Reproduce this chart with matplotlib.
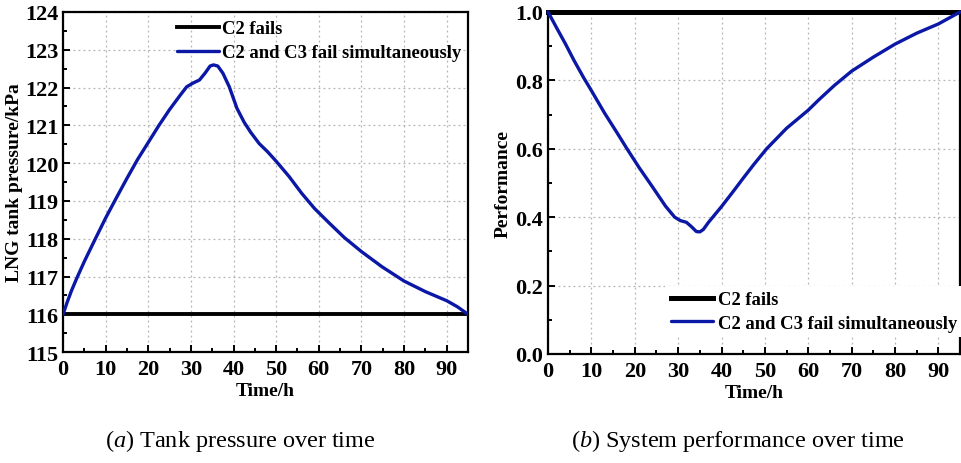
import matplotlib.pyplot as plt
from matplotlib.ticker import MultipleLocator, FormatStrFormatter

plt.rcParams['font.family'] = ['Liberation Serif', 'DejaVu Serif']
plt.rcParams['font.weight'] = 'bold'
plt.rcParams['mathtext.fontset'] = 'custom'
plt.rcParams['mathtext.rm'] = 'Liberation Serif:normal'
plt.rcParams['mathtext.it'] = 'Liberation Serif:italic:normal'

# tank pressure (kPa) vs time (h)
t_pres = [0, 1, 2, 3.2, 5, 7.5, 10, 12.5, 15, 17.5, 20, 22.5, 25, 27.5, 29, 30.5, 32,
          33.3, 34.5, 35.3, 36.3, 37.5, 39, 40.8, 42.5, 44, 46, 48, 50, 53, 56, 59, 62.4,
          66, 70, 74.8, 80, 85, 90, 92.5, 95]
p_c2c3 = [116.0, 116.33, 116.63, 116.95, 117.4, 117.98, 118.55, 119.08, 119.6, 120.1,
          120.55, 121.0, 121.42, 121.8, 122.02, 122.12, 122.2, 122.38, 122.57, 122.6,
          122.57, 122.38, 122.02, 121.45, 121.08, 120.82, 120.52, 120.3, 120.05, 119.65,
          119.2, 118.8, 118.42, 118.03, 117.66, 117.26, 116.88, 116.6, 116.36, 116.2,
          116.0]
t_c2 = [0, 95]
p_c2 = [116.0, 116.0]

# system performance vs time (h)
t_perf = [0, 2, 4, 6, 8.2, 10, 13, 16, 18.2, 21, 24, 27.1, 29.2, 30.5, 31.9, 33, 34.2,
          35, 35.8, 37, 38.5, 40, 42.5, 45, 47.5, 50.4, 55, 60, 62.5, 66, 70, 75, 80,
          85, 90, 95]
perf_c2c3 = [1.0, 0.953, 0.907, 0.858, 0.808, 0.77, 0.705, 0.645, 0.6, 0.545, 0.49,
             0.432, 0.4, 0.39, 0.385, 0.373, 0.358, 0.357, 0.364, 0.385, 0.408, 0.431,
             0.472, 0.514, 0.555, 0.6, 0.66, 0.713, 0.744, 0.785, 0.827, 0.868, 0.906,
             0.938, 0.965, 1.0]
perf_c2 = [1.0, 1.0]

BLUE = '#0b18a6'
LW = 2.4

fig = plt.figure(figsize=(9.61, 4.64), dpi=100)
ax1 = fig.add_axes([0.0656, 0.239, 0.4214, 0.733])
ax2 = fig.add_axes([0.5703, 0.235, 0.4287, 0.737])


def style(ax):
    for s in ax.spines.values():
        s.set_linewidth(1.6)
    ax.tick_params(which='both', direction='in', top=False, right=False,
                   labelsize=16, width=1.4)
    ax.tick_params(which='major', length=5)
    ax.tick_params(which='minor', length=3)
    ax.tick_params(axis='x', pad=5)
    ax.grid(True, which='major', linestyle=(0, (1.5, 2.5)), color='#b4b4b4', lw=0.9)
    ax.set_axisbelow(True)
    ax.xaxis.set_major_locator(MultipleLocator(10))
    ax.xaxis.set_minor_locator(MultipleLocator(5))
    ax.set_xlim(0, 95)
    ax.set_xlabel('Time/h', fontsize=14, fontweight='bold', labelpad=2)


ax1.plot(t_c2, p_c2, color='black', lw=LW + 0.4, label='C2 fails', zorder=3)
ax1.plot(t_pres, p_c2c3, color=BLUE, lw=LW, label='C2 and C3 fail simultaneously',
         solid_joinstyle='round', solid_capstyle='round', zorder=4)
style(ax1)
ax1.set_ylim(115, 124)
ax1.yaxis.set_major_locator(MultipleLocator(1))
ax1.yaxis.set_minor_locator(MultipleLocator(0.5))
ax1.set_ylabel('LNG tank pressure/kPa', fontsize=14, fontweight='bold', labelpad=1)
ax1.legend(loc='upper left', bbox_to_anchor=(0.262, 0.997), frameon=False,
           prop={'size': 13.4, 'weight': 'bold'}, handlelength=2.3, handletextpad=0.16,
           labelspacing=0.35, borderaxespad=0)

ax2.plot(t_c2, perf_c2, color='black', lw=LW + 1.2, label='C2 fails', zorder=3,
         clip_on=False)
ax2.plot(t_perf, perf_c2c3, color=BLUE, lw=LW, label='C2 and C3 fail simultaneously',
         solid_joinstyle='round', solid_capstyle='round', zorder=4, clip_on=False)
style(ax2)
ax2.set_ylim(0, 1.0)
ax2.yaxis.set_major_locator(MultipleLocator(0.2))
ax2.yaxis.set_minor_locator(MultipleLocator(0.1))
ax2.yaxis.set_major_formatter(FormatStrFormatter('%.1f'))
ax2.set_ylabel('Performance', fontsize=14, fontweight='bold', labelpad=3)
leg = ax2.legend(loc='upper left', bbox_to_anchor=(0.284, 0.2), frameon=True,
                 prop={'size': 13.4, 'weight': 'bold'}, handlelength=2.3,
                 handletextpad=0.25, labelspacing=0.35, borderaxespad=0,
                 fancybox=False, borderpad=0.3)
leg.get_frame().set_edgecolor('none')
leg.get_frame().set_facecolor('white')
leg.get_frame().set_alpha(1)

fig.text(0.2497, 0.05, r'($\mathit{a}$) Tank pressure over time', ha='center',
         va='center', fontsize=17.5, fontweight='normal')
fig.text(0.7680, 0.05, r'($\mathit{b}$) System performance over time', ha='center',
         va='center', fontsize=17.5, fontweight='normal')

fig.savefig('out.png', dpi=100)
